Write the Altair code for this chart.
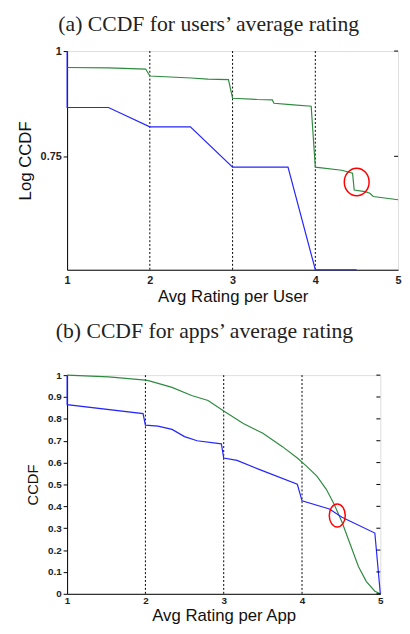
import altair as alt
import pandas as pd

# ---------- (a) users' average rating (log CCDF) ----------
users_green_x = [1.0, 1.5, 1.95, 2.0, 2.5, 2.7, 2.95, 3.0, 3.3, 3.48, 3.5, 3.7, 3.95, 4.0, 4.32, 4.45, 4.47, 4.6, 4.66, 4.7, 5.0]
users_green_y = [0.956, 0.955, 0.952, 0.934, 0.929, 0.926, 0.925, 0.879, 0.876, 0.875, 0.867, 0.864, 0.860, 0.728, 0.722, 0.716, 0.684, 0.681, 0.678, 0.672, 0.666]
users_blue_x = [1.0, 1.0, 1.5, 2.0, 2.49, 3.0, 3.67, 4.0, 4.5]
users_blue_y = [1.0, 0.857, 0.857, 0.813, 0.813, 0.728, 0.728, 0.55, 0.55]
users_yticks = [0.75, 1.0]
users_circle = {"x": [4.5], "y": [0.699]}

# ---------- (b) apps' average rating (CCDF) ----------
apps_green_x = [1.0, 1.53, 2.0, 2.05, 2.34, 2.59, 2.80, 3.0, 3.25, 3.5, 3.75, 3.94, 4.06, 4.19, 4.31, 4.41, 4.51, 4.62, 4.72, 4.82, 4.93, 5.0]
apps_green_y = [1.0, 0.992, 0.977, 0.974, 0.944, 0.907, 0.884, 0.836, 0.779, 0.734, 0.673, 0.621, 0.583, 0.538, 0.478, 0.410, 0.328, 0.222, 0.125, 0.057, 0.012, 0.0]
apps_blue_x = [1.0, 1.0, 1.97, 2.0, 2.16, 2.34, 2.5, 2.66, 2.97, 3.0, 3.17, 3.46, 3.94, 4.0, 4.35, 4.51, 4.93, 5.0]
apps_blue_y = [1.0, 0.865, 0.824, 0.771, 0.767, 0.752, 0.719, 0.700, 0.686, 0.621, 0.610, 0.568, 0.501, 0.425, 0.388, 0.350, 0.278, 0.0]
apps_yticks = [0.0, 0.1, 0.2, 0.3, 0.4, 0.5, 0.6, 0.7, 0.8, 0.9, 1.0]
apps_circle = {"x": [4.45], "y": [0.358]}

x_ticks = [1, 2, 3, 4, 5]
dotted_x = [2, 3, 4]

GREEN = "#2f8a40"
BLUE = "#2525ff"


def line_df(xs, ys):
    return pd.DataFrame({"x": xs, "y": ys, "i": list(range(len(xs)))})


def panel(title, title_offset, gx, gy, bx, by, yticks, yscale, circle, ellipse, ell_size,
          w, h, xtitle, ytitle, ytitle_size, lab_size, ytitle_pad, xlab_pad, xtitle_pad):
    xs = alt.Scale(domain=[1, 5], nice=False)
    xaxis = alt.Axis(values=x_ticks, tickCount=len(x_ticks), format="d", title=xtitle,
                     ticks=False, labelFlush=False,
                     labelOverlap=False, labelFontSize=lab_size, labelPadding=xlab_pad,
                     titleFontSize=17, titlePadding=xtitle_pad,
                     labelFont="Liberation Sans", labelFontWeight="bold",
                     titleFont="Liberation Sans", titleFontWeight="normal",
                     domainColor="black", labelColor="#222", titleColor="#111", grid=False)
    yaxis = alt.Axis(values=yticks, tickCount=len(yticks), title=ytitle, format="~g",
                     tickSize=4, tickColor="black",
                     labelOverlap=False, labelFontSize=lab_size, labelPadding=2,
                     titleFontSize=ytitle_size,
                     titlePadding=ytitle_pad, labelFont="Liberation Sans", labelFontWeight="bold",
                     titleFont="Liberation Sans", titleFontWeight="normal",
                     domainColor="black", labelColor="#222", titleColor="#111", grid=False)

    base_g = alt.Chart(line_df(gx, gy)).mark_line(color=GREEN, strokeWidth=1.2).encode(
        x=alt.X("x:Q", scale=xs, axis=xaxis),
        y=alt.Y("y:Q", scale=yscale, axis=yaxis),
        order="i:Q",
    )
    base_b = alt.Chart(line_df(bx, by)).mark_line(color=BLUE, strokeWidth=1.2).encode(
        x=alt.X("x:Q", scale=xs),
        y=alt.Y("y:Q", scale=yscale),
        order="i:Q",
    )
    dotted = alt.Chart(pd.DataFrame({"x": dotted_x})).mark_rule(
        color="black", strokeDash=[2, 2], strokeWidth=1
    ).encode(x=alt.X("x:Q", scale=xs))
    rticks = alt.Chart(pd.DataFrame({"y": yticks})).mark_rule(color="black", strokeWidth=1).encode(
        y=alt.Y("y:Q", scale=yscale), x=alt.value(w - 4), x2=alt.value(w)
    )
    circ = alt.Chart(pd.DataFrame(circle)).mark_point(
        shape=ellipse, size=ell_size, color="red", strokeWidth=1.5, filled=False, opacity=1
    ).encode(x=alt.X("x:Q", scale=xs), y=alt.Y("y:Q", scale=yscale))

    return alt.layer(dotted, base_g, base_b, rticks, circ).properties(
        width=w, height=h,
        title=alt.TitleParams(title, font="Liberation Serif", fontSize=22, fontWeight="normal",
                              anchor="middle", frame="bounds", offset=title_offset, color="#222"),
    )


top = panel("(a) CCDF for users\u2019 average rating", 9,
            users_green_x, users_green_y, users_blue_x, users_blue_y, users_yticks,
            alt.Scale(type="log", domain=[0.55, 1.0], nice=False, zero=False),
            users_circle, "M-0.9,0A0.9,1,0,1,1,0.9,0A0.9,1,0,1,1,-0.9,0Z", 784,
            336, 222, "Avg Rating per User", "Log CCDF", 17, 11, 6, 5, 3)

bottom = panel("(b) CCDF for apps\u2019 average rating", 28,
               apps_green_x, apps_green_y, apps_blue_x, apps_blue_y, apps_yticks,
               alt.Scale(domain=[0, 1], nice=False, zero=False),
               apps_circle, "M-0.7,0A0.7,1,0,1,1,0.7,0A0.7,1,0,1,1,-0.7,0Z", 540,
               318, 222, "Avg Rating per App", "CCDF", 15, 10, 7, 2, 2)

chart = alt.vconcat(top, bottom, spacing=14).properties(
    padding={"left": 8, "top": 0, "right": 0, "bottom": 0}
).configure_view(stroke="black", strokeWidth=1.2).configure(background="white")

chart.save("out.html", embed_options={"renderer": "svg", "actions": False})
